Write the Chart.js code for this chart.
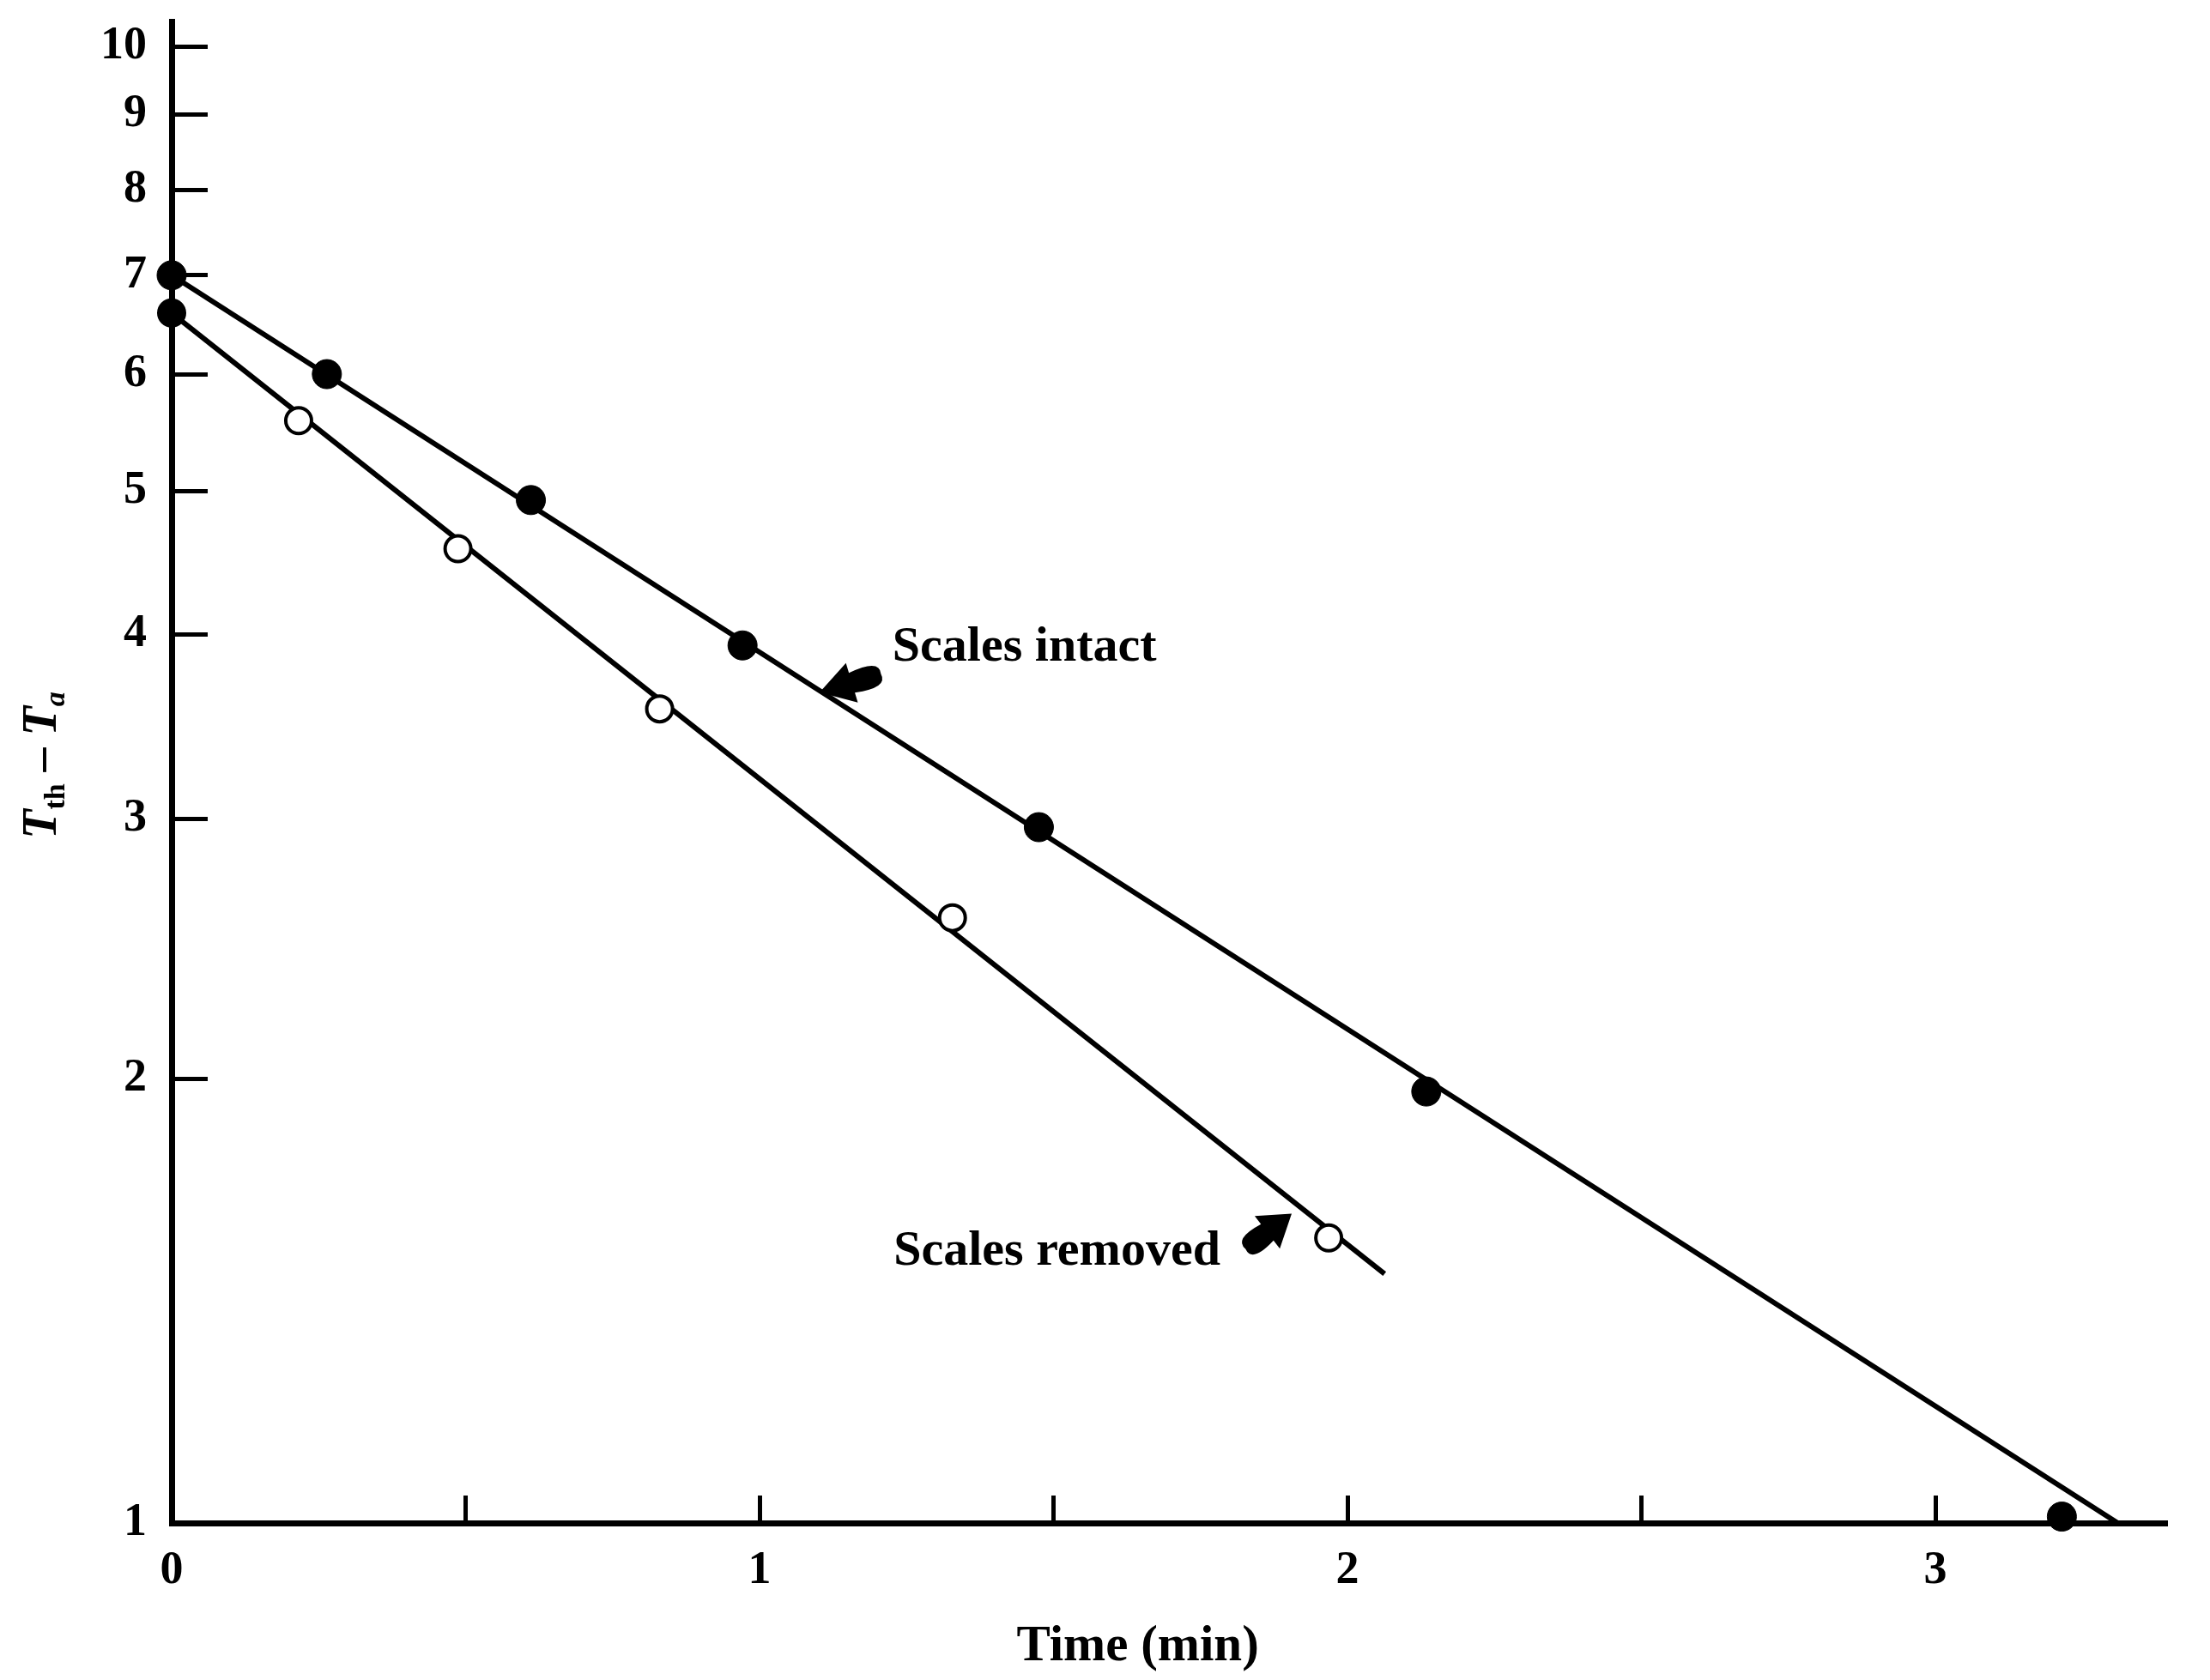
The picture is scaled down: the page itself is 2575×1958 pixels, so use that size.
<!DOCTYPE html>
<html><head><meta charset="utf-8">
<script src="https://cdn.jsdelivr.net/npm/chart.js@4.4.1/dist/chart.umd.min.js"></script>
<style>html,body{margin:0;padding:0;background:#fff;}canvas{display:block;}</style>
</head><body>
<canvas id="c" width="2575" height="1958"></canvas>
<script>
// ---- tick definitions ----
const xTicks = [0, 0.5, 1, 1.5, 2, 2.5, 3];
const xTickLabels = ['0', '', '1', '', '2', '', '3'];
const yTicks = [1, 2, 3, 4, 5, 6, 7, 8, 9, 10];
const yTickLabels = ['1', '2', '3', '4', '5', '6', '7', '8', '9', '10'];

// ---- data: Scales intact (filled circles) ----
const intactTime = [0, 0.264, 0.611, 0.971, 1.475, 2.134, 3.215];
const intactDiff = [7.0, 6.0, 4.93, 3.93, 2.96, 1.96, 1.01];
const intactFitTime = [0, 3.31];
const intactFitDiff = [7.0, 1.0];

// ---- data: Scales removed (open circles) ----
const removedTime = [0, 0.216, 0.487, 0.830, 1.328, 1.968];
const removedDiff = [6.6, 5.58, 4.57, 3.56, 2.57, 1.56];
const removedFitTime = [0, 2.063];
const removedFitDiff = [6.6, 1.475];

const xTitle = 'Time (min)\u00a0\u00a0\u00a0\u00a0\u00a0';
const notes = [
  {text: 'Scales intact', x: 1.226, y: 3.84, tip: [1.102, 3.652], tail: [1.212, 3.765]},
  {text: 'Scales removed', x: 1.228, y: 1.495, tip: [1.905, 1.620], tail: [1.822, 1.528]}
];

const pts = (xs, ys) => xs.map((x, i) => ({x: x, y: ys[i]}));
const SERIF = "'Liberation Serif', 'Times New Roman', serif";

function drawArrow(ctx, tx, ty, bx, by) {
  const dx = tx - bx, dy = ty - by, L = Math.hypot(dx, dy);
  const ux = dx / L, uy = dy / L, px = -uy, py = ux;
  const headLen = L * 0.5, headW = 24, shaftW = 15;
  const hx = tx - ux * headLen, hy = ty - uy * headLen;
  ctx.beginPath();
  ctx.moveTo(tx, ty);
  ctx.lineTo(hx + px * headW, hy + py * headW);
  ctx.lineTo(hx + px * shaftW * 0.8, hy + py * shaftW * 0.8);
  ctx.quadraticCurveTo(bx + px * shaftW * 1.2, by + py * shaftW * 1.2, bx + ux * 4, by + uy * 4);
  ctx.quadraticCurveTo(bx - px * shaftW * 1.2, by - py * shaftW * 1.2, hx - px * shaftW * 0.8, hy - py * shaftW * 0.8);
  ctx.lineTo(hx - px * headW, hy - py * headW);
  ctx.closePath();
  ctx.fill();
}

const annotPlugin = {
  id: 'annot',
  afterDraw(chart) {
    const ctx = chart.ctx, xs = chart.scales.x, ys = chart.scales.y;
    ctx.save();
    ctx.fillStyle = '#000';
    ctx.textBaseline = 'alphabetic';
    ctx.textAlign = 'left';
    ctx.font = 'bold 58px ' + SERIF;
    notes.forEach(n => {
      ctx.fillText(n.text, xs.getPixelForValue(n.x), ys.getPixelForValue(n.y));
      drawArrow(ctx, xs.getPixelForValue(n.tip[0]), ys.getPixelForValue(n.tip[1]),
                     xs.getPixelForValue(n.tail[0]), ys.getPixelForValue(n.tail[1]));
    });
    // y-axis title with subscripts, rotated
    const parts = [
      {t: 'T', f: 'italic bold 56px ' + SERIF, dy: 0},
      {t: 'th', f: 'bold 34px ' + SERIF, dy: 10},
      {t: ' \u2013 ', f: 'bold 56px ' + SERIF, dy: 0},
      {t: 'T', f: 'italic bold 56px ' + SERIF, dy: 0},
      {t: 'a', f: 'italic bold 34px ' + SERIF, dy: 10}
    ];
    let W = 0;
    parts.forEach(p => { ctx.font = p.f; p.w = ctx.measureText(p.t).width; W += p.w; });
    const cy = (ys.getPixelForValue(ys.min) + ys.getPixelForValue(ys.max)) / 2;
    ctx.translate(65, cy - 8);
    ctx.rotate(-Math.PI / 2);
    let cx = -W / 2;
    parts.forEach(p => { ctx.font = p.f; ctx.fillText(p.t, cx, p.dy); cx += p.w; });
    ctx.restore();
  }
};

new Chart(document.getElementById('c').getContext('2d'), {
  type: 'scatter',
  data: {
    datasets: [
      {label: 'Scales intact', data: pts(intactTime, intactDiff), showLine: false,
       pointRadius: 17, pointBackgroundColor: '#000', pointBorderColor: '#000', pointBorderWidth: 1,
       order: 1, clip: false},
      {label: 'Scales intact (fit)', data: pts(intactFitTime, intactFitDiff), showLine: true,
       borderColor: '#000', borderWidth: 6, pointRadius: 0, order: 3, clip: false},
      {label: 'Scales removed', data: pts(removedTime, removedDiff), showLine: false,
       pointRadius: 15, pointBorderWidth: 4, pointBorderColor: '#000',
       pointBackgroundColor: removedDiff.map((v, i) => i === 0 ? '#000' : '#fff'),
       order: 0, clip: false},
      {label: 'Scales removed (fit)', data: pts(removedFitTime, removedFitDiff), showLine: true,
       borderColor: '#000', borderWidth: 6, pointRadius: 0, order: 2, clip: false}
    ]
  },
  options: {
    responsive: false, animation: false, devicePixelRatio: 1,
    layout: {padding: {top: 25, right: 50, bottom: 0, left: 0}},
    plugins: {legend: {display: false}, tooltip: {enabled: false}},
    scales: {
      x: {
        type: 'linear', min: 0, max: 3.394,
        afterBuildTicks: s => { s.ticks = xTicks.map(v => ({value: v})); },
        afterFit: s => { s.height = 183; s.paddingLeft = 0; s.paddingRight = 0; },
        ticks: {callback: (v, i) => xTickLabels[i], autoSkip: false, maxRotation: 0, padding: 56,
                color: '#000', font: {family: SERIF, size: 54, weight: 'bold'}},
        grid: {display: true, drawOnChartArea: false, drawTicks: true, tickLength: -32, tickWidth: 5, tickColor: '#000'},
        border: {display: true, color: '#000', width: 7},
        title: {display: true, text: xTitle, color: '#000', font: {family: SERIF, size: 59, weight: 'bold'},
                padding: {top: 0, bottom: 3}}
      },
      y: {
        type: 'logarithmic', min: 1, max: 10.4,
        afterBuildTicks: s => { s.ticks = yTicks.map(v => ({value: v})); },
        afterFit: s => { s.width = 200; s.paddingTop = 0; s.paddingBottom = 0; },
        ticks: {callback: (v, i) => yTickLabels[i], autoSkip: false, padding: 71,
                color: '#000', font: {family: SERIF, size: 54, weight: 'bold'}},
        grid: {display: true, drawOnChartArea: false, drawTicks: true, tickLength: -42, tickWidth: 5, tickColor: '#000'},
        border: {display: true, color: '#000', width: 7},
        title: {display: false}
      }
    }
  },
  plugins: [annotPlugin]
});
</script>
</body></html>
